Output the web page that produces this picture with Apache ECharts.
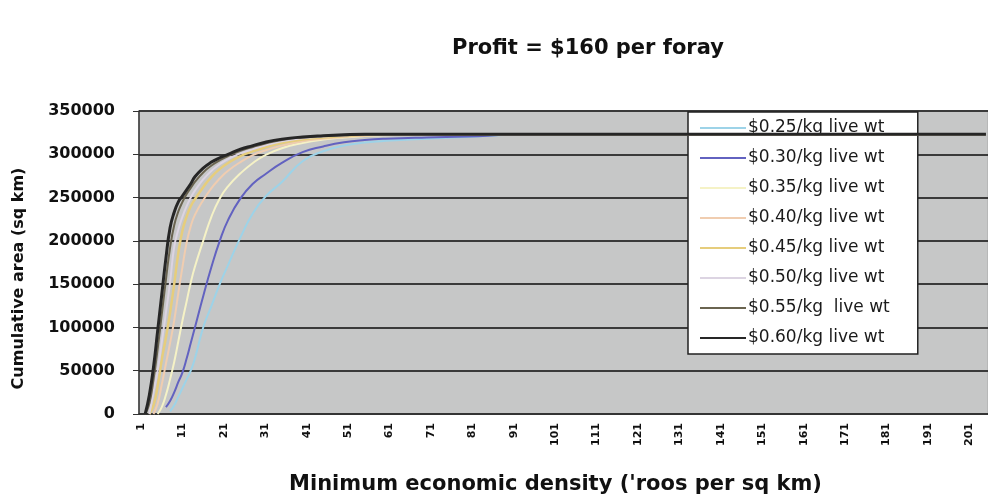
<!DOCTYPE html>
<html>
<head>
<meta charset="utf-8">
<script src="https://cdn.jsdelivr.net/npm/echarts@6/dist/echarts.min.js"></script>
<style>
html,body{margin:0;padding:0;background:#fff;}
#chart{width:988px;height:497px;}
</style>
</head>
<body>
<div id="chart"></div>
<script>
// Category axis: minimum economic density, 1 .. 205
const densityMin = 1;
const densityMax = 205;

const densities = [2,3,4,5,6,7,8,9,10,11,12,13,14,16,18,20,22,25,28,31,35,40,45,50,55,60,70,80,90,100,205];

const seriesNames = [
  '$0.25/kg live wt','$0.30/kg live wt','$0.35/kg live wt','$0.40/kg live wt',
  '$0.45/kg live wt','$0.50/kg live wt','$0.55/kg  live wt','$0.60/kg live wt'
];

const p025 = [null,null,null,null,null,null,3000,10000,20000,30000,40000,50000,64000,100000,125000,150000,172000,204000,232000,251000,268000,292000,303500,310000,313500,315500,318000,320000,322500,323000,323000];
const p030 = [null,null,null,null,null,8000,15000,25000,37000,48000,64000,82000,100000,136000,170000,200000,224000,249000,266000,277000,290000,302500,309000,313800,316500,318000,319500,320500,322500,323000,323000];
const p035 = [null,null,null,0,8000,22000,40000,60000,84000,108000,130000,152000,170000,200000,228000,249000,263000,278000,290000,299000,307000,313000,317000,319500,321000,322000,322800,323000,323000,323000,323000];
const p040 = [null,null,0,12000,34000,58000,82000,108000,140000,170000,198000,217000,230000,247000,261000,272000,281000,291000,299000,304500,310000,315000,318000,320000,321500,322500,323000,323000,323000,323000,323000];
const p045 = [null,0,10000,32000,63000,88000,117000,150000,186000,212000,228000,240000,248000,262000,274000,283000,290000,298000,303500,308000,313000,317000,319500,321000,322200,322800,323000,323000,323000,323000,323000];
const p050 = [null,0,25000,50000,83000,117000,152000,193000,213000,228000,240000,250000,258000,271000,281000,288500,294500,301000,306000,310500,315000,318500,320500,321800,322600,323000,323000,323000,323000,323000,323000];
const p055 = [0,12000,40000,75000,115000,155000,192000,218000,234000,245000,254000,261000,268000,279000,287000,293000,298000,304000,308500,312500,316500,319500,321000,322000,322800,323000,323000,323000,323000,323000,323000];
const p060 = [0,22000,54000,96000,138000,180000,215000,233000,245000,252000,259000,266000,274000,284000,291000,296000,300000,306000,310000,314000,317500,320000,321500,322500,323000,323000,323000,323000,323000,323000,323000];

const seriesValues = [p025,p030,p035,p040,p045,p050,p055,p060];
const seriesColors = ['#9dd3e8','#6262c0','#f5f2c6','#f0cdb0','#e6cd7c','#dcd4e2','#6a6450','#262626'];
const seriesWidths = [2,2,2,2,2.5,2,2,3];

const yTicks = [0,50000,100000,150000,200000,250000,300000,350000];

const categories = [];
for (let d = densityMin; d <= densityMax; d++) categories.push(String(d));

const FONT = 'DejaVu Sans';

const series = seriesNames.map((name, k) => ({
  name: name,
  type: 'line',
  symbol: 'none',
  smooth: 0.5,
  color: seriesColors[k],
  lineStyle: {color: seriesColors[k], width: seriesWidths[k]},
  data: densities.map((d, i) => seriesValues[k][i] == null ? null : [String(d), seriesValues[k][i]]).filter(v => v !== null),
  z: 2 + k
}));

const chart = echarts.init(document.getElementById('chart'), null, {renderer: 'canvas'});
chart.setOption({
  backgroundColor: '#ffffff',
  animation: false,
  title: {
    text: 'Profit = $160 per foray',
    left: 583,
    textAlign: 'center',
    top: 33,
    textStyle: {fontFamily: FONT, fontWeight: 'bold', fontSize: 21, color: '#111'}
  },
  grid: {
    left: 139, right: 0, top: 111, bottom: 83,
    outerBoundsMode: 'none',
    containLabel: false,
    show: true, backgroundColor: '#c6c7c7', borderColor: '#a9a9a9', borderWidth: 1
  },
  legend: {
    orient: 'vertical',
    left: 688, top: 112,
    data: seriesNames,
    icon: 'rect',
    backgroundColor: '#ffffff',
    borderColor: '#222',
    borderWidth: 1.5,
    borderRadius: 0,
    padding: [6, 28, 6, 12],
    itemGap: 10,
    itemWidth: 46,
    itemHeight: 2,
    textStyle: {fontFamily: FONT, fontSize: 17, color: '#1a1a1a', lineHeight: 20, padding: [0,0,0,-3]}
  },
  xAxis: {
    type: 'category',
    data: categories,
    boundaryGap: true,
    name: "Minimum economic density ('roos per sq km)",
    nameLocation: 'middle',
    nameGap: 60,
    nameTextStyle: {fontFamily: FONT, fontWeight: 'bold', fontSize: 21, color: '#111', padding: [0, 16, 0, 0]},
    axisLine: {lineStyle: {color: '#333', width: 1.5}},
    axisTick: {interval: 0, length: 5, lineStyle: {color: '#333', width: 1}},
    axisLabel: {interval: 9, rotate: 90, margin: 9, fontFamily: FONT, fontWeight: 'bold', fontSize: 11, color: '#111'},
    splitLine: {show: false}
  },
  yAxis: {
    type: 'value',
    min: yTicks[0],
    max: yTicks[yTicks.length - 1],
    interval: 50000,
    name: 'Cumulative area (sq km)',
    nameLocation: 'middle',
    nameRotate: 90,
    nameGap: 112,
    nameTextStyle: {fontFamily: FONT, fontWeight: 'bold', fontSize: 16, color: '#111', padding: [0, 32, 0, 0]},
    axisLine: {show: true, lineStyle: {color: '#333', width: 1.5}},
    axisTick: {show: true, length: 6, lineStyle: {color: '#333'}},
    axisLabel: {margin: 24, fontFamily: FONT, fontWeight: 'bold', fontSize: 16, color: '#111', formatter: v => String(v)},
    splitLine: {show: true, lineStyle: {color: '#3a3a3a', width: 2}}
  },
  series: series
});
</script>
</body>
</html>
